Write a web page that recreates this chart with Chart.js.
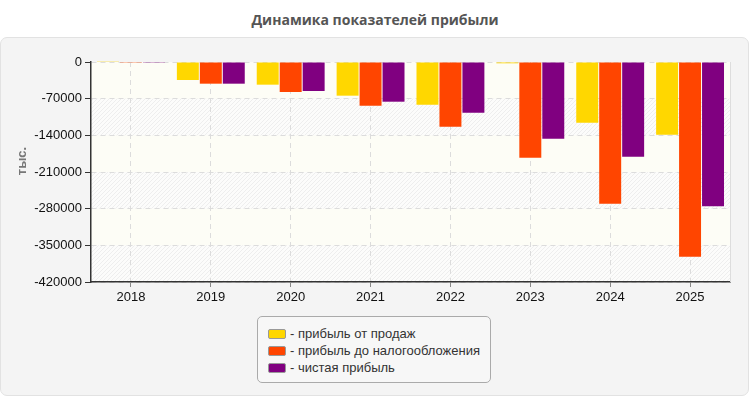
<!DOCTYPE html>
<html><head><meta charset="utf-8">
<script src="https://cdn.jsdelivr.net/npm/chart.js@4"></script>
<style>
body{margin:0;background:#fff;width:750px;height:400px;overflow:hidden;position:relative;font-family:"Liberation Sans",Arial,sans-serif;}
#title{position:absolute;left:0;top:10px;width:750px;text-align:center;font:bold 14px "Open Sans","Liberation Sans",Arial,sans-serif;line-height:20px;color:#555;}
#panel{position:absolute;left:0;top:37px;width:747px;height:357px;background:#f4f4f4;border:1px solid #e2e2e2;border-radius:7px;}
#wrap{position:absolute;left:0;top:0;width:750px;height:400px;}
#legend{position:absolute;left:257px;top:316px;width:234px;height:67px;border:1px solid #aaa;border-radius:5px;background:#f7f7f7;box-sizing:border-box;padding:8px 0 0 10px;}
.item{height:17px;line-height:17px;font-size:13px;color:#333;white-space:nowrap;}
.sw{display:inline-block;width:16px;height:8px;border:1px solid #999;border-radius:2px;vertical-align:middle;margin-right:4px;position:relative;top:-1px;}
</style>
</head><body>
<div id="title">Динамика показателей прибыли</div>
<div id="panel"></div>
<div id="wrap"><canvas id="c" width="750" height="400"></canvas></div>
<div id="legend"></div>
<script>
const chartTitle = 'Динамика показателей прибыли';
const yAxisTitle = 'тыс.';
const categories = ['2018','2019','2020','2021','2022','2023','2024','2025'];
const seriesNames = ['- прибыль от продаж','- прибыль до налогообложения','- чистая прибыль'];
const salesProfit = [1500, -34400, -43300, -64300, -81500, -2500, -115900, -138800];
const preTaxProfit = [-1500, -41400, -57300, -83400, -123500, -182700, -270500, -371700];
const netProfit = [-1500, -41400, -55400, -75800, -96800, -146400, -180800, -275500];
const yTicks = [0, -70000, -140000, -210000, -280000, -350000, -420000];
const seriesColors = ['#FFD700','#FF4500','#800080'];

// hatch pattern
const pc = document.createElement('canvas');
pc.width = 4; pc.height = 4;
const pctx = pc.getContext('2d');
pctx.fillStyle = '#fcfcfb'; pctx.fillRect(0,0,4,4);
pctx.strokeStyle = '#eeeeee'; pctx.lineWidth = 1;
pctx.beginPath();
pctx.moveTo(0,4); pctx.lineTo(4,0);
pctx.moveTo(-1,1); pctx.lineTo(1,-1);
pctx.moveTo(3,5); pctx.lineTo(5,3);
pctx.stroke();

const bgPlugin = {
  id: 'bg',
  beforeDraw(chart){
    const {ctx, chartArea:a, scales:{y}} = chart;
    ctx.save();
    ctx.fillStyle = '#fdfdf6';
    ctx.fillRect(a.left, a.top, a.right-a.left, a.bottom-a.top);
    const pat = ctx.createPattern(pc, 'repeat');
    for (let i = 1; i < yTicks.length - 1; i += 2) {
      const y1 = y.getPixelForValue(yTicks[i]);
      const y2 = y.getPixelForValue(yTicks[i+1]);
      ctx.fillStyle = pat;
      ctx.fillRect(a.left, y1, a.right-a.left, y2-y1);
    }
    ctx.restore();
  },
  afterDatasetsDraw(chart){
    const {ctx, chartArea:a} = chart;
    ctx.save();
    ctx.strokeStyle = '#dddddd'; ctx.lineWidth = 1;
    ctx.beginPath();
    ctx.moveTo(a.right+0.5, a.top);
    ctx.lineTo(a.right+0.5, a.bottom);
    ctx.stroke();
    ctx.restore();
  },
  afterDraw(chart){
    const ctx = chart.ctx;
    ctx.save();
    ctx.translate(22, 161);
    ctx.rotate(-Math.PI/2);
    ctx.font = 'bold 13px "Liberation Sans", Arial, sans-serif';
    ctx.fillStyle = '#777';
    ctx.textAlign = 'center'; ctx.textBaseline = 'middle';
    ctx.fillText(yAxisTitle, 0, 0);
    ctx.restore();
  }
};

const series = [salesProfit, preTaxProfit, netProfit];
const chart = new Chart(document.getElementById('c'), {
  type: 'bar',
  data: {
    labels: categories,
    datasets: series.map((d,i)=>({
      label: seriesNames[i],
      data: d,
      backgroundColor: seriesColors[i],
      borderWidth: 0,
      categoryPercentage: 0.8625,
      barPercentage: 0.9565,
      clip: false
    }))
  },
  options: {
    responsive: false,
    animation: false,
    layout: { padding: { left: 0, top: 62, right: 20, bottom: 93 } },
    plugins: { legend: { display: false }, tooltip: { enabled: false }, title: { display: false } },
    scales: {
      x: {
        afterFit(s){ s.height = 25; },
        grid: { offset: false, color: '#dcdcdc', tickColor: '#888', tickLength: 5, tickBorderDash: [] },
        border: { display: true, color: '#333', width: 1.5, dash: [5,4] },
        ticks: { color: '#111', font: { family: '"Liberation Sans", Arial, sans-serif', size: 13 }, padding: 3 }
      },
      y: {
        min: -420000, max: 0,
        afterFit(s){ s.width = 91; },
        afterBuildTicks(s){ s.ticks = yTicks.map(v=>({value:v})); },
        grid: { color: '#dcdcdc', tickColor: '#333', tickLength: 6, tickBorderDash: [] },
        border: { display: true, color: '#333', width: 1.5, dash: [5,4] },
        ticks: { color: '#111', font: { family: '"Liberation Sans", Arial, sans-serif', size: 13 }, padding: 3,
                 callback: (v)=> String(v) }
      }
    }
  },
  plugins: [bgPlugin]
});

const lg = document.getElementById('legend');
seriesNames.forEach((n,i)=>{
  const d = document.createElement('div'); d.className='item';
  const s = document.createElement('span'); s.className='sw'; s.style.background = seriesColors[i];
  d.appendChild(s); d.appendChild(document.createTextNode(n));
  lg.appendChild(d);
});
</script>
</body></html>
